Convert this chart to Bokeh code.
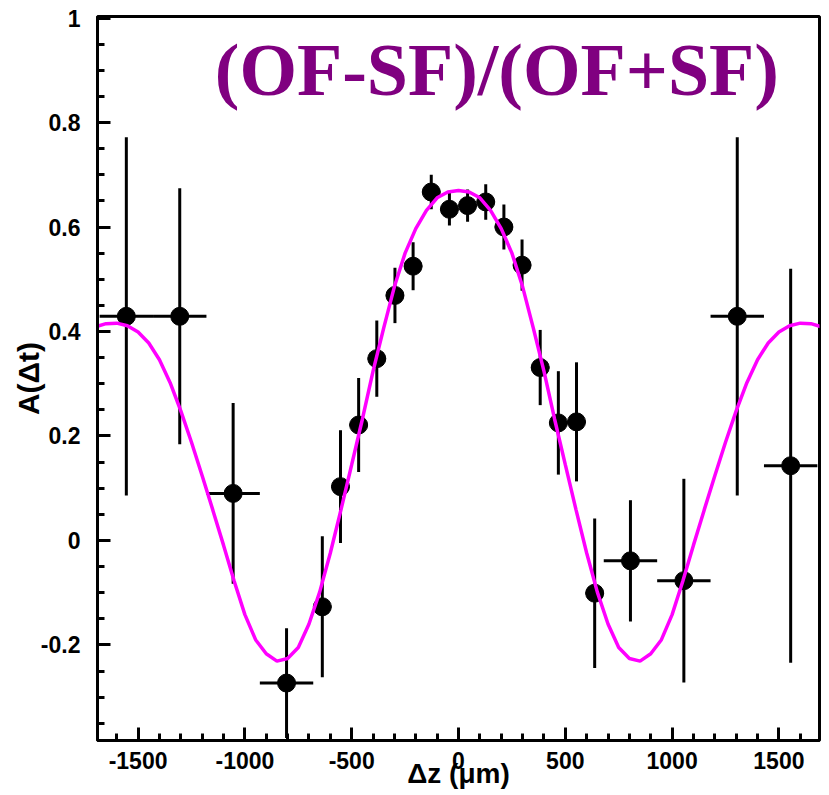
import numpy as np
from bokeh.plotting import figure
from bokeh.models import FixedTicker, NumeralTickFormatter, Label, Range1d
from bokeh.embed import file_html
from bokeh.resources import INLINE

# Measured asymmetry A(dz) per bin: centres, half-widths, values, errors
dz = [-1555, -1305, -1055, -805,
      -637.5, -552.5, -467.5, -382.5, -297.5, -212.5, -127.5, -42.5,
      42.5, 127.5, 212.5, 297.5, 382.5, 467.5, 552.5, 637.5,
      805, 1055, 1305, 1555]
dz_err = [125, 125, 125, 125,
          42.5, 42.5, 42.5, 42.5, 42.5, 42.5, 42.5, 42.5,
          42.5, 42.5, 42.5, 42.5, 42.5, 42.5, 42.5, 42.5,
          125, 125, 125, 125]
asym = [0.429, 0.429, 0.090, -0.273,
        -0.127, 0.103, 0.221, 0.348, 0.469, 0.525, 0.667, 0.634,
        0.641, 0.648, 0.600, 0.527, 0.331, 0.225, 0.227, -0.101,
        -0.039, -0.077, 0.429, 0.143]
asym_err = [0.343, 0.245, 0.173, 0.105,
            0.135, 0.108, 0.090, 0.073, 0.053, 0.046, 0.033, 0.031,
            0.031, 0.034, 0.043, 0.049, 0.072, 0.099, 0.114, 0.143,
            0.116, 0.195, 0.343, 0.377]

# Fitted oscillation curve sampled every 50 um
fit_z = list(range(-1700, 1701, 50))
fit_a = [0.409, 0.415, 0.416, 0.411, 0.399, 0.378, 0.346, 0.302, 0.248, 0.188,
         0.124, 0.058, -0.009, -0.078, -0.142, -0.190, -0.217, -0.231, -0.226, -0.205,
         -0.160, -0.099, -0.024, 0.059, 0.145, 0.232, 0.324, 0.407, 0.486, 0.550,
         0.597, 0.632, 0.656, 0.667, 0.670,
         0.667, 0.656, 0.632, 0.597, 0.550, 0.486, 0.407, 0.324, 0.232, 0.145,
         0.059, -0.024, -0.099, -0.160, -0.205, -0.226, -0.231, -0.217, -0.190, -0.142,
         -0.078, -0.009, 0.058, 0.124, 0.188, 0.248, 0.302, 0.346, 0.378, 0.399,
         0.411, 0.416, 0.415, 0.409]

x_major = [-1500, -1000, -500, 0, 500, 1000, 1500]
x_minor = list(range(-1600, 1601, 100))
y_major = [-0.2, 0, 0.2, 0.4, 0.6, 0.8, 1.0]
y_minor = [round(-0.35 + 0.05 * i, 2) for i in range(28)]

title_text = "(OF-SF)/(OF+SF)"
x_title = "\u0394z (\u03bcm)"
y_title = "A(\u0394t)"

p = figure(width=829, height=795, output_backend="svg", toolbar_location=None,
           x_range=Range1d(-1690, 1690), y_range=Range1d(-0.383, 1.003),
           min_border_left=97, min_border_right=10, min_border_top=16,
           min_border_bottom=55)
p.background_fill_color = "white"
p.border_fill_color = "white"
p.outline_line_color = "black"
p.outline_line_width = 3
p.xgrid.visible = False
p.ygrid.visible = False

for ax, major, minor in ((p.xaxis[0], x_major, x_minor), (p.yaxis[0], y_major, y_minor)):
    ax.ticker = FixedTicker(ticks=major, minor_ticks=minor)
    ax.formatter = NumeralTickFormatter(format="0.[0]")
    ax.axis_line_width = 3
    ax.major_tick_line_width = 3
    ax.minor_tick_line_width = 3
    ax.major_tick_in = 13
    ax.major_tick_out = 0
    ax.minor_tick_in = 7
    ax.minor_tick_out = 0
    ax.major_label_text_font = "Liberation Sans"
    ax.major_label_text_font_style = "bold"
    ax.major_label_text_font_size = "23px"
    ax.major_label_text_color = "black"
    ax.axis_label_text_font = "Liberation Sans"
    ax.axis_label_text_font_style = "bold"
    ax.axis_label_text_color = "black"

p.xaxis[0].major_label_standoff = 11
p.yaxis[0].major_label_standoff = 17

p.xaxis[0].axis_label = x_title
p.xaxis[0].axis_label_text_font_size = "28px"
p.xaxis[0].axis_label_standoff = -14
p.yaxis[0].axis_label = y_title
p.yaxis[0].axis_label_text_font_size = "30px"
p.yaxis[0].axis_label_standoff = -7

z = np.array(dz)
ze = np.array(dz_err)
a = np.array(asym)
ae = np.array(asym_err)

# error bars
p.segment(x0=z, y0=a - ae, x1=z, y1=a + ae, line_color="black", line_width=3)
p.segment(x0=z - ze, y0=a, x1=z + ze, y1=a, line_color="black", line_width=3)
# data points
p.scatter(x=z, y=a, size=18, color="black", marker="circle")
# fit curve
p.line(x=fit_z, y=fit_a, line_color="#ff00ff", line_width=3.5)

p.add_layout(Label(x=1500, y=0.90, text=title_text, text_align="right",
                   text_baseline="alphabetic", text_color="#800080",
                   text_font="Liberation Serif", text_font_style="bold",
                   text_font_size="74px"))

open("out.html", "w").write(file_html(p, INLINE))
